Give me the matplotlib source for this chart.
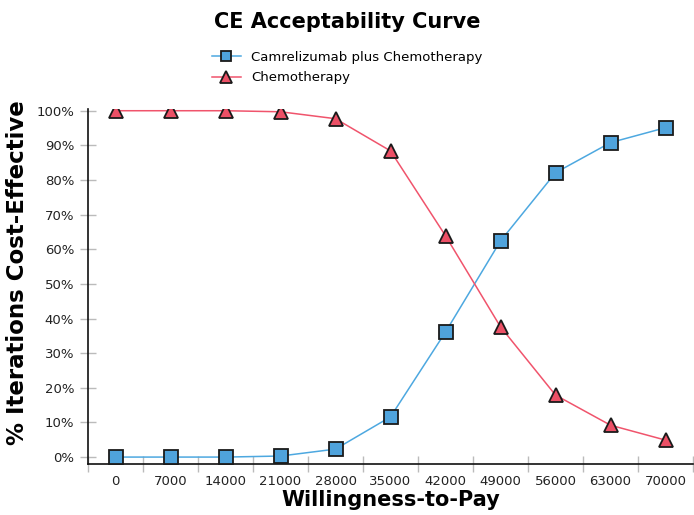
import matplotlib
matplotlib.use('Agg')
from matplotlib import pyplot as plt
import numpy as np

wtp = ['0', '7000', '14000', '21000', '28000', '35000', '42000', '49000', '56000', '63000', '70000']
camrelizumab = [0.0, 0.0, 0.0, 0.3, 2.3, 11.6, 36.1, 62.4, 82.1, 90.8, 95.1]
chemo = [100.0, 100.0, 100.0, 99.7, 97.7, 88.4, 63.9, 37.6, 17.9, 9.2, 4.9]

plt.rcParams['font.family'] = ['DejaVu Sans']

figure = plt.figure(figsize=(6.94, 5.15), dpi=100)
axes = figure.add_axes([88 / 694, 51 / 515, 605 / 694, 355 / 515])

positions = np.arange(len(wtp))
axes.plot(positions, camrelizumab, color='#4DA8E0', linewidth=1.1, marker='s', markersize=9.5,
          markerfacecolor='#4FA3DC', markeredgecolor='#1a1a1a', markeredgewidth=1.3,
          label='Camrelizumab plus Chemotherapy', zorder=3)
axes.plot(positions, chemo, color='#F0546C', linewidth=1.1, marker='^', markersize=10,
          markerfacecolor='#EC5066', markeredgecolor='#1a1a1a', markeredgewidth=1.3,
          label='Chemotherapy', zorder=3)

axes.set_xlim(-0.5, len(wtp) - 0.5)
axes.set_ylim(-2, 100.5)
axes.set_xticks(positions)
axes.set_xticklabels(wtp, fontsize=9.5, color='#222222')
axes.set_xticks(np.arange(-0.5, len(wtp)), minor=True)
axes.tick_params(axis='x', which='major', length=0, pad=8)
axes.tick_params(axis='x', which='minor', length=12, direction='inout', color='#bbbbbb', width=1)
axes.set_yticks(np.arange(0, 101, 10))
axes.set_yticklabels([f'{v}%' for v in range(0, 101, 10)], fontsize=9.5, color='#222222')
axes.tick_params(axis='y', length=12, direction='inout', color='#bbbbbb', width=1, pad=4)

for side in ['top', 'right']:
    axes.spines[side].set_visible(False)
for side in ['left', 'bottom']:
    axes.spines[side].set_color('#111111')
    axes.spines[side].set_linewidth(1.2)

axes.set_xlabel('Willingness-to-Pay', fontsize=15, fontweight='bold', labelpad=1)
axes.set_ylabel('% Iterations Cost-Effective', fontsize=16.5, fontweight='bold')
axes.yaxis.set_label_coords(-0.098, 0.54)

figure.text(0.5, 0.958, 'CE Acceptability Curve', ha='center', va='center',
            fontsize=15, fontweight='bold')
figure.legend(loc='upper center', bbox_to_anchor=(0.5, 0.925), frameon=False,
              fontsize=9.5, handlelength=2.2, labelspacing=0.6, handletextpad=0.8,
              markerscale=0.8)

plt.savefig('out.png', dpi=100)
